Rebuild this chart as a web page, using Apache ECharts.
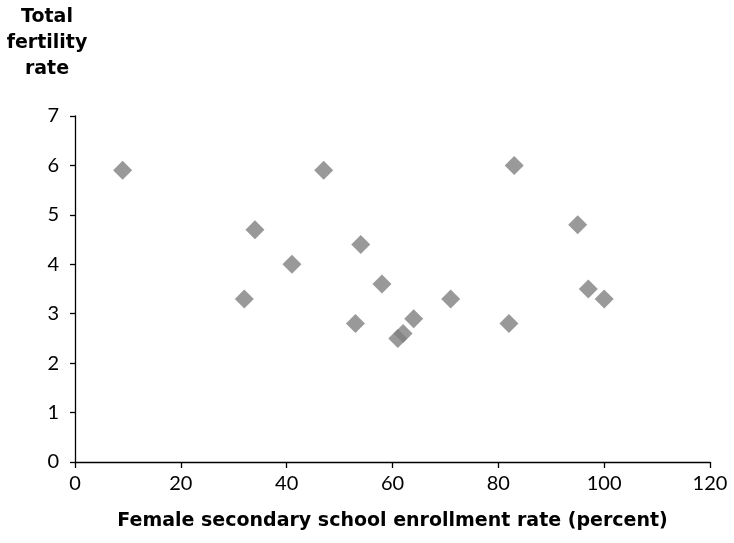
<!DOCTYPE html>
<html>
<head>
<meta charset="utf-8">
<script src="https://cdn.jsdelivr.net/npm/echarts@6/dist/echarts.min.js"></script>
<style>
  html, body { margin: 0; padding: 0; background: #fff; }
  #chart { width: 734px; height: 543px; }
</style>
</head>
<body>
<div id="chart"></div>
<script>
// Female secondary school enrollment (%) vs. total fertility rate, one point per country
const enrollment = [9, 32, 34, 41, 47, 53, 54, 58, 61, 62, 64, 71, 82, 83, 95, 97, 100];
const fertility  = [5.9, 3.3, 4.7, 4.0, 5.9, 2.8, 4.4, 3.6, 2.5, 2.6, 2.9, 3.3, 2.8, 6.0, 4.8, 3.5, 3.3];

const xTitle = 'Female secondary school enrollment rate (percent)';
const yTitle = 'Total\nfertility\nrate';

const points = enrollment.map((x, i) => [x, fertility[i]]);

const tickFont = { fontFamily: 'Lato', fontSize: 20, color: '#000' };
const axisLine = { show: true, lineStyle: { color: '#000', width: 1.3 } };

const chart = echarts.init(document.getElementById('chart'), null, { renderer: 'canvas' });
chart.setOption({
  animation: false,
  backgroundColor: '#fff',
  grid: { left: 75, right: 24, top: 116, bottom: 81, containLabel: false },
  xAxis: {
    type: 'value', min: 0, max: 120, interval: 20,
    name: xTitle, nameLocation: 'middle', nameGap: 50,
    nameTextStyle: { fontFamily: 'DejaVu Sans', fontWeight: 'bold', fontSize: 19, color: '#000' },
    axisLine: axisLine,
    axisTick: { show: true, length: 6, lineStyle: { color: '#000', width: 1.3 } },
    axisLabel: Object.assign({ margin: 12 }, tickFont),
    splitLine: { show: false }
  },
  yAxis: {
    type: 'value', min: 0, max: 7, interval: 1,
    axisLine: axisLine,
    axisTick: { show: true, length: 5, lineStyle: { color: '#000', width: 1.3 } },
    axisLabel: Object.assign({ margin: 16 }, tickFont),
    splitLine: { show: false }
  },
  graphic: [{
    type: 'text',
    x: 47, y: 4,
    style: {
      text: yTitle, x: 0, y: 0,
      align: 'center', lineHeight: 26,
      font: 'bold 19px "DejaVu Sans"', fill: '#000'
    }
  }],
  series: [{
    type: 'scatter',
    data: points,
    symbol: 'diamond',
    symbolSize: [19, 19],
    itemStyle: { color: '#808080' }
  }]
});
</script>
</body>
</html>
